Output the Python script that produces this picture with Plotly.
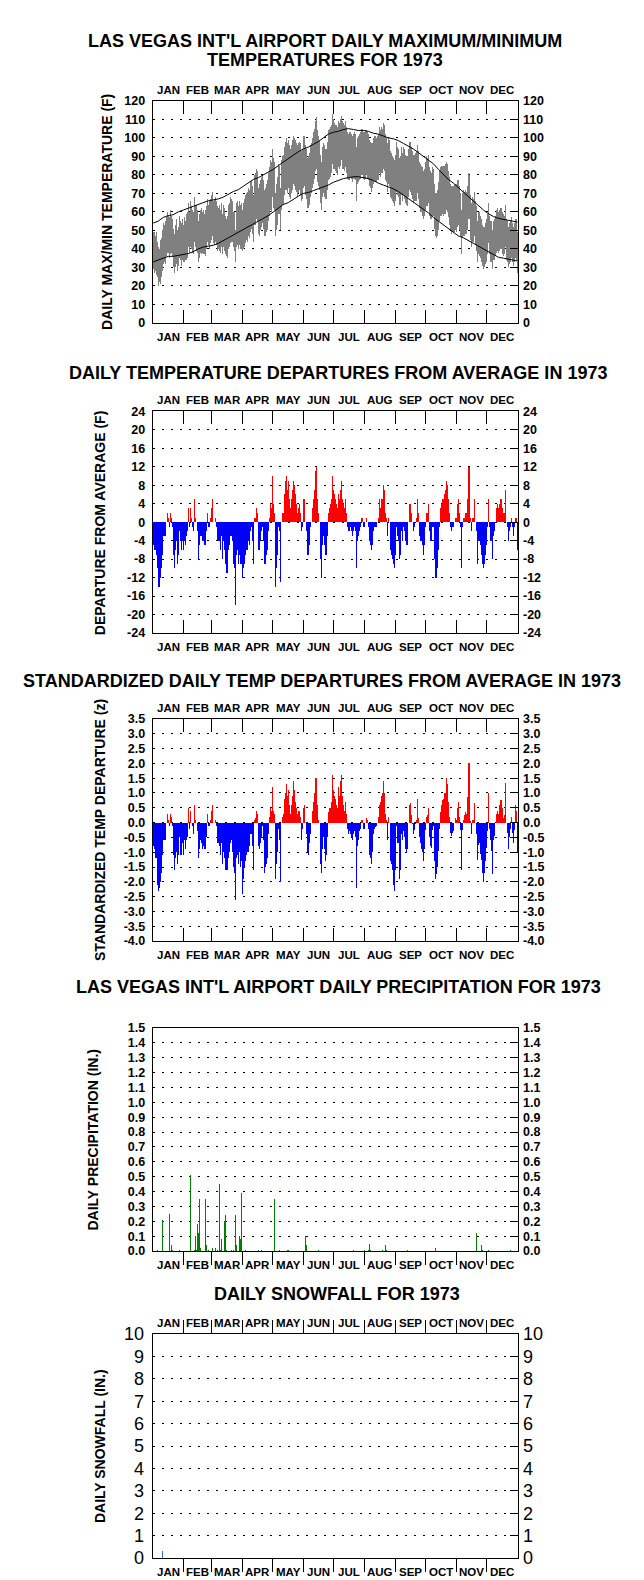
import plotly.graph_objects as go

# ---------------- DATA ----------------
MONTHS = ["JAN", "FEB", "MAR", "APR", "MAY", "JUN", "JUL", "AUG", "SEP", "OCT", "NOV", "DEC"]
MONTH_LENGTHS = [31, 28, 31, 30, 31, 30, 31, 31, 30, 31, 30, 31]

# Daily maximum temperature (F), one list per month
TMAX = [
    [49, 49, 47, 49, 44, 41, 40, 45, 46, 50, 54, 53, 55, 57, 60, 58, 57, 61, 58, 56, 51, 48, 53, 56, 50, 52, 58, 55, 54, 56, 53],
    [57, 55, 59, 60, 65, 60, 66, 63, 61, 60, 68, 63, 64, 61, 55, 59, 61, 62, 60, 61, 59, 61, 63, 67, 64, 66, 67, 69],
    [71, 66, 67, 68, 66, 63, 62, 64, 61, 65, 59, 64, 62, 58, 56, 58, 64, 65, 68, 67, 66, 60, 60, 50, 65, 66, 63, 66, 64, 65, 61],
    [65, 67, 69, 70, 71, 73, 72, 76, 77, 74, 69, 80, 81, 83, 82, 73, 75, 77, 79, 80, 77, 72, 73, 75, 77, 81, 84, 88, 87, 94],
    [89, 87, 70, 75, 79, 86, 85, 73, 88, 90, 91, 95, 98, 100, 97, 99, 96, 94, 96, 99, 101, 100, 99, 97, 96, 97, 98, 97, 93, 94, 101],
    [101, 96, 94, 89, 90, 92, 96, 97, 100, 103, 105, 109, 111, 104, 101, 99, 91, 87, 95, 97, 96, 94, 94, 98, 104, 105, 106, 107, 113, 110],
    [108, 107, 107, 106, 109, 108, 110, 112, 109, 108, 107, 109, 106, 103, 102, 103, 103, 102, 101, 102, 103, 102, 95, 100, 101, 102, 103, 105, 105, 103, 103],
    [104, 104, 103, 102, 99, 98, 97, 97, 100, 101, 101, 100, 101, 102, 106, 104, 106, 105, 108, 107, 102, 100, 97, 100, 99, 93, 92, 90, 89, 88, 91],
    [98, 95, 94, 89, 90, 95, 92, 95, 94, 91, 90, 90, 94, 98, 98, 95, 93, 91, 91, 92, 93, 96, 93, 87, 86, 85, 84, 82, 83, 87],
    [90, 89, 91, 84, 82, 81, 84, 83, 75, 70, 70, 72, 76, 82, 84, 85, 85, 85, 85, 86, 87, 86, 82, 79, 75, 74, 74, 74, 75, 75, 75],
    [77, 77, 74, 70, 61, 70, 72, 71, 72, 71, 74, 81, 80, 69, 65, 68, 67, 71, 66, 63, 55, 60, 60, 58, 56, 53, 52, 52, 54, 56],
    [59, 65, 58, 55, 55, 50, 55, 56, 58, 61, 62, 60, 61, 62, 62, 60, 59, 58, 64, 56, 55, 52, 54, 55, 57, 54, 52, 54, 56, 56, 49],
]

# Daily minimum temperature (F)
TMIN = [
    [29, 27, 28, 26, 25, 20, 22, 21, 25, 28, 32, 33, 32, 36, 38, 38, 35, 37, 38, 36, 30, 27, 30, 32, 28, 31, 35, 34, 31, 34, 33],
    [33, 34, 34, 35, 41, 38, 41, 40, 38, 37, 44, 41, 39, 38, 33, 35, 38, 37, 38, 37, 37, 36, 40, 44, 42, 40, 43, 45],
    [47, 43, 42, 44, 42, 39, 40, 39, 38, 41, 37, 41, 39, 37, 36, 35, 40, 41, 43, 44, 44, 41, 39, 33, 41, 42, 40, 42, 40, 40, 39],
    [40, 41, 43, 45, 44, 47, 46, 49, 51, 48, 44, 53, 53, 56, 55, 48, 47, 50, 52, 54, 51, 47, 47, 49, 50, 55, 58, 61, 60, 68],
    [62, 61, 47, 50, 53, 59, 59, 50, 61, 64, 64, 69, 72, 72, 70, 73, 68, 67, 70, 72, 75, 74, 72, 71, 68, 70, 72, 69, 66, 67, 73],
    [74, 69, 67, 62, 62, 64, 68, 70, 73, 75, 78, 82, 83, 76, 74, 72, 65, 61, 68, 70, 68, 67, 67, 72, 77, 78, 79, 81, 86, 83],
    [83, 82, 81, 80, 84, 83, 85, 88, 83, 83, 82, 84, 81, 78, 77, 77, 79, 78, 76, 78, 78, 77, 66, 75, 76, 77, 78, 80, 80, 78, 77],
    [78, 80, 78, 77, 74, 73, 71, 73, 75, 76, 76, 76, 77, 77, 81, 79, 81, 81, 83, 82, 77, 76, 71, 75, 74, 68, 67, 66, 65, 63, 66],
    [71, 69, 68, 64, 64, 69, 66, 69, 67, 65, 64, 63, 68, 72, 71, 69, 67, 65, 66, 66, 66, 70, 67, 62, 60, 60, 58, 56, 58, 61],
    [63, 63, 65, 58, 56, 56, 58, 58, 51, 47, 46, 47, 50, 55, 58, 58, 59, 58, 59, 59, 61, 60, 57, 53, 50, 48, 49, 49, 49, 50, 49],
    [52, 53, 50, 47, 37, 46, 47, 47, 48, 48, 50, 56, 56, 45, 41, 44, 44, 47, 42, 39, 33, 37, 36, 35, 33, 31, 29, 30, 32, 33],
    [37, 43, 37, 33, 33, 29, 34, 34, 36, 38, 39, 38, 39, 40, 40, 37, 36, 37, 41, 34, 33, 30, 32, 33, 35, 33, 31, 33, 35, 34, 27],
]

# Normal max/min temperature curves (F), sampled every 5 days
NORM_DAYS = [1, 6, 11, 16, 21, 26, 31, 36, 41, 46, 51, 56, 61, 66, 71, 76, 81, 86, 91, 96, 101, 106, 111, 116, 121,
             126, 131, 136, 141, 146, 151, 156, 161, 166, 171, 176, 181, 186, 191, 196, 201, 206, 211, 216, 221,
             226, 231, 236, 241, 246, 251, 256, 261, 266, 271, 276, 281, 286, 291, 296, 301, 306, 311, 316, 321,
             326, 331, 336, 341, 346, 351, 356, 361, 365]
NORM_MAX = [54, 55, 57, 58, 58.5, 60, 61, 62, 63, 64, 65, 66, 66.5, 67, 68, 69.5, 71, 72, 74, 76, 77.5, 78.5, 80, 81.5, 83,
            85, 87, 88.5, 90.5, 92.5, 94, 95, 96.5, 98, 100, 102, 103, 103.5, 104.5, 105, 104.5, 104, 104, 103.5, 102.5,
            102, 101, 100, 99.5, 98.5, 97, 95.5, 94, 92, 90, 88, 86, 83, 80, 77.5, 75.5, 73, 71, 68.5, 66,
            63.5, 61, 59, 57.5, 56.5, 56, 55.5, 55, 54.5]
NORM_MIN = [33, 34, 35, 36, 36, 36.5, 37, 37.5, 38.5, 40, 41, 41.5, 42, 43, 44.5, 46, 47.5, 49, 50.5, 52, 53.5, 55, 56.5, 58, 60,
            62, 64, 65, 67, 68.5, 70, 70.5, 71.5, 72.5, 73.5, 74.5, 76, 77, 78, 78.5, 79, 79, 78.5, 78, 77,
            75.5, 74.5, 73.5, 72.5, 71, 69, 67, 65.5, 63.5, 61.5, 59.5, 57, 55, 53, 51, 49, 47, 46, 44.5, 43,
            41.5, 40, 38.5, 37, 35.5, 35, 34.5, 34, 33.5]

# Daily mean temperature departure from average (F)
DEP = [
    [-5, -6, -6, -7, -10, -14, -14, -12, -10, -7, -3, -3, -3, 0, 2, 1, -1, 2, 1, -1, -7, -10, -6, -4, -9, -7, -2, -4, -6, -4, -6],
    [-4, -5, -3, -2, 3, -1, 3, 1, -1, -2, 5, 1, 0, -2, -8, -5, -3, -3, -4, -4, -5, -5, -2, 2, -1, -1, 1, 3],
    [5, 0, 0, 1, -1, -4, -4, -4, -6, -3, -8, -4, -6, -9, -11, -11, -6, -5, -3, -3, -4, -9, -10, -18, -7, -6, -9, -7, -9, -9, -12],
    [-10, -9, -7, -6, -6, -4, -5, -2, -1, -4, -9, 1, 1, 3, 2, -6, -6, -4, -2, -1, -4, -9, -9, -7, -6, -2, 1, 4, 3, 10],
    [4, 2, -14, -10, -7, -1, -2, -13, 0, 2, 2, 6, 9, 10, 7, 9, 5, 3, 5, 7, 9, 8, 6, 4, 2, 3, 4, 2, -2, -1, 5],
    [5, 0, -2, -7, -7, -5, -1, 0, 3, 5, 7, 11, 12, 5, 2, 0, -8, -12, -5, -3, -5, -7, -7, -3, 2, 3, 4, 5, 10, 7],
    [6, 5, 4, 3, 6, 5, 7, 9, 5, 4, 3, 5, 2, -1, -2, -2, -1, -2, -3, -2, -1, -2, -10, -4, -3, -2, -1, 1, 1, -1, -1],
    [0, 1, 0, -1, -4, -5, -6, -5, -2, -1, -1, -1, 0, 1, 5, 3, 5, 5, 8, 7, 2, 1, -3, 1, 0, -6, -7, -8, -9, -10, -7],
    [-1, -3, -4, -8, -7, -2, -4, -1, -2, -4, -5, -5, 0, 4, 4, 2, 0, -2, -1, 0, 1, 5, 2, -3, -4, -4, -5, -7, -5, -1],
    [2, 2, 4, -2, -4, -4, -1, -1, -8, -12, -12, -10, -6, -1, 3, 4, 5, 5, 6, 7, 9, 8, 5, 2, -1, -2, -1, -1, 0, 1, 1],
    [4, 5, 2, -1, -10, -1, 1, 1, 2, 2, 5, 12, 12, 1, -2, 1, 1, 5, 0, -2, -9, -4, -4, -5, -7, -9, -10, -9, -7, -5],
    [-1, 5, -1, -4, -4, -8, -3, -2, 0, 3, 4, 3, 4, 5, 5, 3, 2, 2, 7, 0, -1, -4, -2, -1, 1, -1, -3, -1, 1, 1, -6],
]

# Standardized daily departure (z)
STD = [
    [-0.8, -0.9, -1.2, -1.2, -2.1, -2.3, -2.2, -2.0, -1.7, -1.1, -0.6, -0.6, -0.6, 0.0, 0.3, 0.1, -0.1, 0.3, 0.2, -0.1, -1.1, -1.6, -1.2, -1.0, -1.4, -1.1, -0.5, -1.1, -1.1, -0.7, -1.1],
    [-0.6, -0.9, -0.6, -0.5, 0.5, -0.2, 0.4, 0.0, -0.1, -0.4, 0.6, 0.1, 0.0, -0.3, -1.2, -0.9, -0.6, -0.7, -0.9, -0.8, -0.9, -0.9, -0.5, 0.3, -0.1, -0.1, 0.1, 0.4],
    [0.6, 0.0, 0.0, 0.1, -0.1, -0.7, -0.7, -0.8, -1.1, -0.7, -1.4, -1.0, -1.2, -1.6, -1.6, -1.6, -1.2, -1.0, -0.7, -0.6, -1.0, -1.5, -1.7, -2.6, -1.2, -1.1, -1.4, -1.0, -1.5, -1.3, -2.4],
    [-1.9, -1.5, -1.3, -1.1, -1.0, -1.0, -0.8, -0.4, -0.4, -0.8, -1.6, 0.1, 0.15, 0.4, 0.3, -0.8, -0.9, -0.7, -0.5, -0.1, -0.6, -1.7, -1.5, -1.4, -1.2, -0.4, 0.2, 0.5, 0.4, 1.2],
    [0.4, 0.3, -1.9, -1.4, -1.0, -0.2, -0.6, -2.0, 0.0, 0.2, 0.3, 0.8, 1.0, 1.3, 0.9, 1.1, 0.6, 0.3, 0.6, 0.9, 1.4, 1.1, 0.7, 0.5, 0.3, 0.4, 0.4, 0.2, -0.6, -0.2, 0.5],
    [0.6, 0.0, -0.4, -1.0, -1.1, -0.7, -0.4, 0.0, 0.4, 0.7, 1.0, 1.5, 1.5, 0.6, 0.1, 0.0, -1.4, -1.7, -0.9, -0.5, -0.9, -1.3, -1.1, -0.5, 0.35, 0.5, 0.5, 0.7, 1.6, 1.1],
    [0.9, 0.8, 0.6, 0.5, 1.2, 0.9, 1.4, 1.6, 0.9, 0.6, 0.4, 0.7, 0.3, -0.2, -0.4, -0.3, -0.4, -0.5, -0.6, -0.4, -0.3, -0.5, -2.2, -0.8, -0.6, -0.3, -0.2, 0.1, 0.1, -0.2, -0.2],
    [0.0, 0.15, 0.1, -0.2, -1.1, -1.2, -1.4, -1.0, -0.4, -0.2, -0.15, -0.1, 0.0, 0.2, 0.6, 0.7, 0.9, 1.0, 1.4, 1.0, 0.3, 0.1, -0.6, 0.2, 0.0, -1.3, -1.4, -1.6, -2.1, -2.3, -1.6],
    [-0.1, -0.7, -0.7, -1.9, -1.6, -0.4, -0.6, -0.3, -0.5, -0.9, -1.0, -0.9, 0.0, 0.6, 0.65, 0.25, -0.05, -0.4, -0.25, -0.05, 0.1, 0.8, 0.15, -0.5, -0.7, -0.9, -1.0, -1.3, -0.9, -0.25],
    [0.2, 0.25, 0.5, -0.5, -0.8, -0.85, -0.25, -0.1, -1.3, -1.9, -1.75, -1.5, -0.95, -0.2, 0.35, 0.6, 0.75, 0.8, 1.0, 1.0, 1.5, 1.3, 0.7, 0.2, -0.35, -0.45, -0.35, -0.3, 0.0, 0.15, 0.1],
    [0.5, 0.7, 0.2, -0.25, -1.6, -0.25, 0.1, 0.25, 0.35, 0.3, 0.85, 2.0, 2.0, 0.05, -0.4, 0.1, 0.1, 0.65, 0.0, -0.4, -1.25, -0.75, -0.7, -1.05, -1.25, -1.7, -2.0, -1.7, -1.3, -0.85],
    [-0.3, 1.0, -0.2, -0.6, -0.95, -1.75, -0.6, -0.45, 0.0, 0.3, 0.4, 0.3, 0.6, 0.75, 0.75, 0.5, 0.15, 0.25, 1.35, 0.0, -0.35, -0.9, -0.5, -0.2, 0.2, -0.35, -0.7, -0.25, 0.6, 0.4, -1.0],
]

# Daily precipitation (inches): day-of-year and amount
PRECIP_DAYS = [5, 10, 17, 19, 20, 27, 38, 42, 43, 44, 45, 46, 47, 48, 53, 54, 56, 60, 63, 65, 67, 68, 69, 72, 73, 74, 79, 81, 83,
               84, 87, 88, 89, 93, 106, 109, 122, 127, 135, 136, 153, 154, 166, 201, 212, 216, 217, 218, 230, 233, 234,
               255, 283, 324, 329, 330, 336, 358]
PRECIP_IN = [0.01, 0.21, 0.25, 0.04, 0.01, 0.01, 0.51, 0.01, 0.10, 0.01, 0.18, 0.12, 0.35, 0.02, 0.35, 0.04, 0.01, 0.02, 0.02,
             0.01, 0.45, 0.01, 0.08, 0.20, 0.24, 0.01, 0.01, 0.01, 0.24, 0.04, 0.10, 0.08, 0.39, 0.01, 0.01, 0.01, 0.35,
             0.01, 0.01, 0.01, 0.10, 0.04, 0.01, 0.01, 0.01, 0.01, 0.05, 0.01, 0.01, 0.04, 0.01, 0.01, 0.02, 0.12, 0.04,
             0.01, 0.01, 0.01]

# Daily snowfall (inches)
SNOW_DAYS = [10]
SNOW_IN = [0.3]

# Axis ticks per panel
Y1_TICKS = list(range(0, 121, 10))
Y2_TICKS = list(range(-24, 25, 4))
Y3_TICKS = [-4.0, -3.5, -3.0, -2.5, -2.0, -1.5, -1.0, -0.5, 0.0, 0.5, 1.0, 1.5, 2.0, 2.5, 3.0, 3.5]
Y4_TICKS = [i / 10 for i in range(0, 16)]
Y5_TICKS = list(range(0, 11))

TITLES = [
    "LAS VEGAS INT'L AIRPORT DAILY MAXIMUM/MINIMUM",
    "DAILY TEMPERATURE DEPARTURES FROM AVERAGE IN 1973",
    "STANDARDIZED DAILY TEMP DEPARTURES FROM AVERAGE IN 1973",
    "LAS VEGAS INT'L AIRPORT DAILY PRECIPITATION FOR 1973",
    "DAILY SNOWFALL FOR 1973",
]
TITLE1_LINE2 = "TEMPERATURES FOR 1973"
YTITLES = [
    "DAILY MAX/MIN TEMPERATURE (F)",
    "DEPARTURE FROM AVERAGE (F)",
    "STANDARDIZED TEMP DEPARTURE (z)",
    "DAILY PRECIPITATION (IN.)",
    "DAILY SNOWFALL (IN.)",
]

# ---------------- BUILD ----------------
def flat(lst):
    return [v for m in lst for v in m]

tmax = flat(TMAX)
tmin = flat(TMIN)
dep = flat(DEP)
std = flat(STD)
days = list(range(1, len(tmax) + 1))

W, H = 644, 1580
X0, X1 = 152.7, 518.0
PANELS = [(92, 317), (406.5, 631), (718, 943), (1031, 1257), (1341, 1568)]
TITLE_Y = [31, 368, 680, 990, 1300]
TITLE_X = [325, 338, 322, 338, 337]
YTITLE_X = [107, 100, 100, 93, 100]
TOP_LABELS = [True, True, True, False, True]
TICK_DIR = ["inside", "inside", "inside", "outside", "outside"]
TICK_MIRROR = ["ticks", "ticks", "ticks", True, "ticks"]
FONT = "Liberation Sans, Arial, sans-serif"

edges = [0.5]
for n in MONTH_LENGTHS:
    edges.append(edges[-1] + n)
bounds = edges[1:-1]
mids = [(edges[i] + edges[i + 1]) / 2 for i in range(12)]

fig = go.Figure()

# Panel 1: max/min bars + normals
fig.add_trace(go.Bar(x=days, y=[a - b for a, b in zip(tmax, tmin)], base=tmin, width=1,
                     marker=dict(color="#808080", line=dict(width=0)), xaxis="x", yaxis="y"))
fig.add_trace(go.Scatter(x=NORM_DAYS, y=NORM_MAX, mode="lines", line=dict(color="black", width=1),
                         xaxis="x", yaxis="y"))
fig.add_trace(go.Scatter(x=NORM_DAYS, y=NORM_MIN, mode="lines", line=dict(color="black", width=1),
                         xaxis="x", yaxis="y"))
# Panel 2: departures
fig.add_trace(go.Bar(x=days, y=dep, width=1,
                     marker=dict(color=["#ff0000" if v > 0 else "#0000ff" for v in dep], line=dict(width=0)),
                     xaxis="x2", yaxis="y2"))
# Panel 3: standardized departures
fig.add_trace(go.Bar(x=days, y=std, width=1,
                     marker=dict(color=["#ff0000" if v > 0 else "#0000ff" for v in std], line=dict(width=0)),
                     xaxis="x3", yaxis="y3"))
# Panel 4: precipitation
fig.add_trace(go.Bar(x=PRECIP_DAYS, y=PRECIP_IN, width=0.9,
                     marker=dict(color="#008000", line=dict(width=0)), xaxis="x4", yaxis="y4"))
# Panel 5: snowfall
fig.add_trace(go.Bar(x=SNOW_DAYS, y=SNOW_IN, width=0.9,
                     marker=dict(color="#2a78b8", line=dict(width=0)), xaxis="x5", yaxis="y5"))

YTICKS = [Y1_TICKS, Y2_TICKS, Y3_TICKS, Y4_TICKS, Y5_TICKS]
YFMT = [lambda v: str(v), lambda v: str(v), lambda v: "%.1f" % v, lambda v: "%.1f" % v, lambda v: str(v)]

layout = dict(width=W, height=H, margin=dict(l=0, r=0, t=0, b=0), autosize=False,
              paper_bgcolor="white", plot_bgcolor="white", showlegend=False,
              bargap=0, barmode="overlay", font=dict(family=FONT, color="black"))
annotations = []

for k in range(1, 6):
    top, bot = PANELS[k - 1]
    xa = "xaxis" if k == 1 else "xaxis%d" % k
    xr = "x" if k == 1 else "x%d" % k
    ya = "yaxis" if k == 1 else "yaxis%d" % k
    yr = "y" if k == 1 else "y%d" % k
    yra = "yaxis%d" % (k + 5)
    ticks = YTICKS[k - 1]
    ttext = [YFMT[k - 1](v) for v in ticks]
    rng = [ticks[0], ticks[-1]]
    tfont = dict(family=FONT, size=12.5, color="black", weight="bold") if k < 5 else \
        dict(family=FONT, size=18, color="black")
    layout[xa] = dict(domain=[X0 / W, X1 / W], anchor=yr, range=[0.5, 365.5], tickmode="array",
                      tickvals=bounds, ticks=TICK_DIR[k - 1], ticklen=13, tickwidth=1, tickcolor="black",
                      mirror=TICK_MIRROR[k - 1], showline=True, linecolor="black", linewidth=1,
                      showticklabels=False, showgrid=False, zeroline=False, fixedrange=True)
    layout[ya] = dict(domain=[1 - bot / H, 1 - top / H], anchor=xr, range=rng, tickmode="array",
                      tickvals=ticks, ticktext=ttext, showgrid=True, gridcolor="black",
                      griddash="2px,7px", gridwidth=1, showline=True, linecolor="black", linewidth=1,
                      mirror=True, ticks="", tickfont=tfont, zeroline=False, fixedrange=True,
                      ticklabelstandoff=4)
    layout[yra] = dict(overlaying=yr, side="right", anchor=xr, range=rng, tickmode="array",
                       tickvals=ticks, ticktext=ttext, ticks="inside", ticklen=8, tickwidth=1,
                       tickcolor="black", showgrid=False, zeroline=False, showline=False,
                       tickfont=tfont, fixedrange=True, ticklabelstandoff=4)
    # month labels top and bottom
    mfont = dict(family=FONT, size=11.5, color="black", weight="bold")
    for i, m in enumerate(MONTHS):
        if TOP_LABELS[k - 1]:
            annotations.append(dict(text=m, x=mids[i], xref=xr, y=1, yref=yr + " domain", yshift=11,
                                    showarrow=False, yanchor="middle", xanchor="center", font=mfont))
        annotations.append(dict(text=m, x=mids[i], xref=xr, y=0, yref=yr + " domain", yshift=-14,
                                showarrow=False, yanchor="middle", xanchor="center", font=mfont))
    # y title
    annotations.append(dict(text=YTITLES[k - 1], x=YTITLE_X[k - 1] / W, xref="paper", y=0.5,
                            yref=yr + " domain", textangle=-90, showarrow=False,
                            xanchor="center", yanchor="middle",
                            font=dict(family=FONT, size=14, color="black", weight="bold")))
    # panel title
    annotations.append(dict(text=TITLES[k - 1], x=TITLE_X[k - 1] / W, xref="paper",
                            y=1 - TITLE_Y[k - 1] / H, yref="paper",
                            showarrow=False, xanchor="center", yanchor="middle",
                            font=dict(family=FONT, size=18, color="black", weight="bold")))

annotations.append(dict(text=TITLE1_LINE2, x=TITLE_X[0] / W, xref="paper", y=1 - 51 / H, yref="paper",
                        showarrow=False, xanchor="center", yanchor="middle",
                        font=dict(family=FONT, size=18, color="black", weight="bold")))

# empty traces so the right-hand axes are registered
for k in range(1, 6):
    xr = "x" if k == 1 else "x%d" % k
    fig.add_trace(go.Scatter(x=[], y=[], xaxis=xr, yaxis="y%d" % (k + 5), showlegend=False))

layout["annotations"] = annotations
fig.update_layout(**layout)
fig.write_html("out.html", config={"displayModeBar": False, "staticPlot": True},
               post_script="document.body.style.margin='0px';document.documentElement.style.margin='0px';")
